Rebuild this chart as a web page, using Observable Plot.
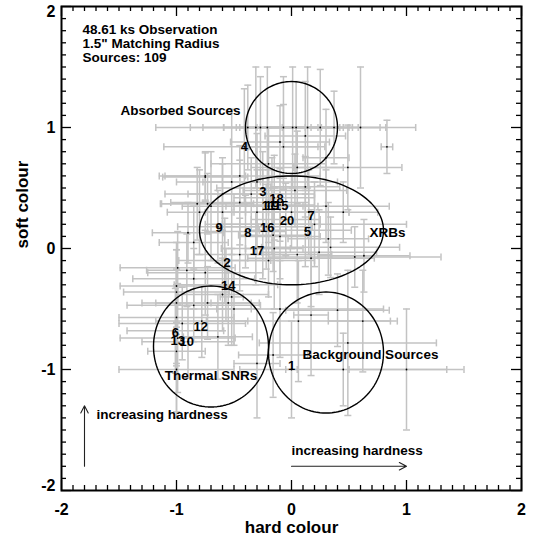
<!DOCTYPE html>
<html><head><meta charset="utf-8">
<script src="https://cdn.jsdelivr.net/npm/d3@7"></script>
<script src="https://cdn.jsdelivr.net/npm/@observablehq/plot@0.6"></script>
<style>body{margin:0;background:#fff}#chart{width:533px;height:537px}</style>
</head><body><div id="chart"></div>
<script>
// ---- source colours (hard, soft) with 1-sigma errors ----
const hard = [-0.38,-0.31,-0.27,-0.21,-0.07,0.01,0.04,0.14,0.25,0.37,0.60,
  -0.41,-0.10,0.83,0.49,0.12,-0.07,0.05,-0.20,-0.75,0.30,
  0.12,0.03,0.32,0.24,0.63,0.17,-0.16,0.34,-0.25,-0.15,-0.20,-0.17,-0.10,0.15,-0.05,-0.22,0.12,
  -0.64,-0.40,-0.31,-0.58,-0.57,-0.30,-0.35,-0.45,-0.25,-0.10,0.00,-0.30,0.05,-0.20,-0.45,0.45,-0.15,
  -0.82,-0.73,-0.75,-0.80,-0.90,-0.99,-0.91,-0.85,-1.00,-0.75,-1.00,-0.85,-1.00,-0.95,-1.01,-0.99,-0.90,-0.78,-1.00,
  -0.64,-0.73,-0.60,-0.50,-0.55,-0.52,-1.00,-1.00,
  0.00,1.00,0.49,0.06,-0.10,-0.16,0.40,0.45,-0.30,0.17,0.62,
  0.30,0.20,0.55,-0.60,-0.45,-0.85,-0.70,-0.60,-0.52];
const soft = [1.00,1.00,1.00,1.00,1.00,1.00,1.00,1.00,1.00,1.00,1.00,
  0.84,0.88,0.84,0.67,0.93,0.84,0.67,0.70,0.60,0.75,
  0.51,0.48,0.08,-0.03,-0.06,-0.08,0.11,0.01,0.50,0.42,0.35,0.35,0.36,0.30,0.24,0.18,0.15,
  0.18,0.14,0.00,-0.10,-0.30,0.30,0.45,0.38,0.20,0.10,0.30,0.55,-0.05,-0.10,-0.05,0.30,0.00,
  0.37,0.37,0.59,0.30,0.13,-0.16,-0.18,-0.25,-0.31,-0.20,-0.36,-0.47,-0.57,-0.62,-0.68,-0.74,-0.77,-0.60,-1.00,
  -0.73,-0.45,-0.38,-0.50,-0.45,-0.40,-0.45,-0.85,
  -1.00,-1.00,-0.78,-0.60,-0.50,-0.88,-0.51,-1.00,-0.95,-0.55,-0.60,
  0.35,0.20,-0.07,0.45,0.60,0.05,0.35,0.30,0.55];
const hardErr = [0.80,0.57,0.50,0.38,0.52,0.49,0.49,0.44,0.52,0.45,0.48,
  0.70,0.43,0.05,0.47,0.35,0.30,0.40,0.50,0.35,0.20,
  0.30,0.45,0.35,0.50,0.40,0.55,0.30,0.60,0.40,0.35,0.30,0.40,0.30,0.35,0.30,0.40,0.40,
  0.35,0.35,0.30,0.40,0.45,0.45,0.55,0.60,0.50,0.35,0.50,0.70,0.30,0.40,0.40,0.30,0.25,
  0.32,0.40,0.37,0.28,0.31,0.50,0.35,0.53,0.49,0.50,0.46,0.58,0.50,0.55,0.42,0.50,0.40,0.40,0.50,
  0.30,0.45,0.40,0.15,0.20,0.10,0.30,0.25,
  0.05,0.50,0.77,0.80,0.90,0.30,0.45,0.90,0.20,0.15,0.30,
  0.55,0.80,0.75,0.50,0.70,0.30,0.25,0.20,0.25];
const softErr = [0.35,0.50,0.42,0.50,0.42,0.50,0.38,0.50,0.48,0.30,0.50,
  0.48,0.30,0.22,0.35,0.45,0.35,0.30,0.30,0.20,0.40,
  0.25,0.30,0.30,0.35,0.30,0.40,0.30,0.25,0.30,0.35,0.30,0.40,0.30,0.35,0.30,0.35,0.30,
  0.30,0.30,0.30,0.35,0.30,0.35,0.30,0.35,0.45,0.35,0.30,0.40,0.40,0.30,0.30,0.25,0.50,
  0.30,0.25,0.20,0.35,0.25,0.30,0.30,0.25,0.30,0.35,0.35,0.30,0.40,0.30,0.35,0.45,0.30,0.30,0.35,
  0.35,0.30,0.30,0.30,0.35,0.40,0.50,0.55,
  0.40,0.50,0.60,0.50,0.40,0.35,0.30,0.30,0.45,0.50,0.42,
  0.30,0.35,0.25,0.30,0.25,0.30,0.45,0.40,0.60];

// ---- numbered sources ----
const labelText = ["1","2","3","4","5","6","7","8","9","10","11","12","13","14","15","16","17","18","19","20"];
const labelHard = [0.00,-0.56,-0.25,-0.41,0.14,-1.01,0.17,-0.38,-0.63,-0.91,-0.20,-0.79,-0.99,-0.55,-0.09,-0.21,-0.30,-0.13,-0.17,-0.04];
const labelSoft = [-0.97,-0.12,0.47,0.84,0.14,-0.70,0.27,0.13,0.17,-0.77,0.35,-0.65,-0.76,-0.31,0.35,0.17,-0.02,0.41,0.35,0.23];

// ---- classification regions ----
const regionName = ["Absorbed Sources","XRBs","Thermal SNRs","Background Sources"];
const regionCx = [0.0, 0.0, -0.7, 0.3];
const regionCy = [1.0, 0.15, -0.81, -0.86];
const regionRx = [0.4, 0.8, 0.5, 0.5];
const regionRy = [0.38, 0.45, 0.5, 0.5];
const regionLabelX = [-0.965, 0.835, -0.70, 0.687];
const regionLabelY = [1.14, 0.13, -1.05, -0.876];
const regionLabelAnchor = ["middle","start","middle","middle"];

// ---- header ----
const headerLines = ["48.61 ks Observation", "1.5\" Matching Radius", "Sources: 109"];

// ---- axis ticks ----
const majorTicks = [-2,-1,0,1,2];
const minorTicks = d3.range(-20, 21).map(i => i / 10).filter(v => Math.abs(v - Math.round(v)) > 1e-9);

// ---- hardness arrows ----
const arrowLabel = ["increasing hardness", "increasing hardness"];
const arrowX1 = [-1.8, 0.0], arrowY1 = [-1.8, -1.8], arrowX2 = [-1.8, 1.0], arrowY2 = [-1.3, -1.8];
const arrowLabelX = [-1.696, 0.0], arrowLabelY = [-1.37, -1.67];

const sources = hard.map((x, i) => ({x, y: soft[i], ex: hardErr[i], ey: softErr[i]}));
const labels = labelText.map((t, i) => ({t, x: labelHard[i], y: labelSoft[i]}));
const regions = regionName.map((name, i) => ({name, cx: regionCx[i], cy: regionCy[i], rx: regionRx[i], ry: regionRy[i],
  lx: regionLabelX[i], ly: regionLabelY[i], anchor: regionLabelAnchor[i]}));
const outline = regions.flatMap((r, i) => d3.range(0, 361, 3).map(a => ({id: i,
  x: r.cx + r.rx * Math.cos(a * Math.PI / 180), y: r.cy + r.ry * Math.sin(a * Math.PI / 180)})));
const arrows = arrowLabel.map((t, i) => ({t, x1: arrowX1[i], y1: arrowY1[i], x2: arrowX2[i], y2: arrowY2[i], lx: arrowLabelX[i], ly: arrowLabelY[i]}));

const W = 533, H = 537, mL = 61, mR = 12, mT = 6, mB = 47;
const innerH = H - mT - mB, innerW = W - mL - mR;
const gray = "#c3c3c3";
const capV = {draw(ctx) { ctx.moveTo(0, -3.5); ctx.lineTo(0, 3.5); }};
const capH = {draw(ctx) { ctx.moveTo(-3.5, 0); ctx.lineTo(3.5, 0); }};
const font = "'Liberation Sans', Arial, Helvetica, sans-serif";
const tickText = {fontSize: 16, fontWeight: "bold", fill: "black", lineAnchor: "middle", text: d => String(d)};

const chart = Plot.plot({
  width: W, height: H,
  marginLeft: mL, marginRight: mR, marginTop: mT, marginBottom: mB,
  x: {domain: [-2, 2], axis: null},
  y: {domain: [-2, 2], axis: null},
  style: {fontFamily: font, background: "white", color: "black", overflow: "visible"},
  marks: [
    // error bars
    Plot.ruleY(sources, {y: "y", x1: d => d.x - d.ex, x2: d => d.x + d.ex, stroke: gray, strokeWidth: 1.5}),
    Plot.ruleX(sources, {x: "x", y1: d => d.y - d.ey, y2: d => d.y + d.ey, stroke: gray, strokeWidth: 1.5}),
    Plot.dot(sources, {x: d => d.x - d.ex, y: "y", symbol: capV, stroke: gray, fill: "none", strokeWidth: 1.5}),
    Plot.dot(sources, {x: d => d.x + d.ex, y: "y", symbol: capV, stroke: gray, fill: "none", strokeWidth: 1.5}),
    Plot.dot(sources, {x: "x", y: d => d.y - d.ey, symbol: capH, stroke: gray, fill: "none", strokeWidth: 1.5}),
    Plot.dot(sources, {x: "x", y: d => d.y + d.ey, symbol: capH, stroke: gray, fill: "none", strokeWidth: 1.5}),
    Plot.dot(sources, {x: "x", y: "y", r: 0.9, fill: "black", stroke: null}),
    // regions
    Plot.line(outline, {x: "x", y: "y", z: "id", stroke: "black", strokeWidth: 1.4, curve: "linear"}),
    Plot.text(regions, {x: "lx", y: "ly", text: "name", textAnchor: d => d.anchor, fontSize: 13.5, fontWeight: "bold", fill: "black"}),
    // numbered sources
    Plot.text(labels, {x: "x", y: "y", text: "t", fontSize: 13, fontWeight: "bold", fill: "black"}),
    // header
    Plot.text([headerLines.join("\n")], {frameAnchor: "top-left", dx: 21, dy: 37, text: d => d, textAnchor: "start",
      lineAnchor: "middle", lineHeight: 1.04, fontSize: 13.5, fontWeight: "bold", fill: "black"}),
    // arrows
    Plot.arrow(arrows, {x1: "x1", y1: "y1", x2: "x2", y2: "y2", stroke: "#222", strokeWidth: 1.1, headLength: 11, headAngle: 55}),
    Plot.text(arrows, {x: "lx", y: "ly", text: "t", textAnchor: "start", fontSize: 13.5, fontWeight: "bold", fill: "black"}),
    // frame & ticks
    Plot.frame({stroke: "black", strokeWidth: 2}),
    Plot.tickX(minorTicks, {x: d => d, insetTop: innerH - 5, stroke: "black", strokeWidth: 1.3}),
    Plot.tickX(minorTicks, {x: d => d, insetBottom: innerH - 5, stroke: "black", strokeWidth: 1.3}),
    Plot.tickX(majorTicks, {x: d => d, insetTop: innerH - 10, stroke: "black", strokeWidth: 1.3}),
    Plot.tickX(majorTicks, {x: d => d, insetBottom: innerH - 10, stroke: "black", strokeWidth: 1.3}),
    Plot.tickY(minorTicks, {y: d => d, insetRight: innerW - 5, stroke: "black", strokeWidth: 1.3}),
    Plot.tickY(minorTicks, {y: d => d, insetLeft: innerW - 5, stroke: "black", strokeWidth: 1.3}),
    Plot.tickY(majorTicks, {y: d => d, insetRight: innerW - 10, stroke: "black", strokeWidth: 1.3}),
    Plot.tickY(majorTicks, {y: d => d, insetLeft: innerW - 10, stroke: "black", strokeWidth: 1.3}),
    // tick labels
    Plot.text(majorTicks, {x: d => d, frameAnchor: "bottom", dy: 19, ...tickText}),
    Plot.text(majorTicks.filter(v => Math.abs(v) < 2), {y: d => d, frameAnchor: "left", dx: -6, textAnchor: "end", ...tickText}),
    Plot.text(majorTicks.filter(v => v === 2), {y: d => d, frameAnchor: "left", dx: -6, dy: 5, textAnchor: "end", ...tickText}),
    Plot.text(majorTicks.filter(v => v === -2), {y: d => d, frameAnchor: "left", dx: -6, dy: -5, textAnchor: "end", ...tickText}),
    // axis titles
    Plot.text(["hard colour"], {frameAnchor: "bottom", dy: 37, text: d => d, fontSize: 17, fontWeight: "bold", fill: "black", lineAnchor: "middle"}),
    Plot.text(["soft colour"], {frameAnchor: "left", dx: -39, text: d => d, rotate: -90, fontSize: 17, fontWeight: "bold", fill: "black", lineAnchor: "middle"})
  ]
});
document.getElementById("chart").appendChild(chart);
</script>
</body></html>
